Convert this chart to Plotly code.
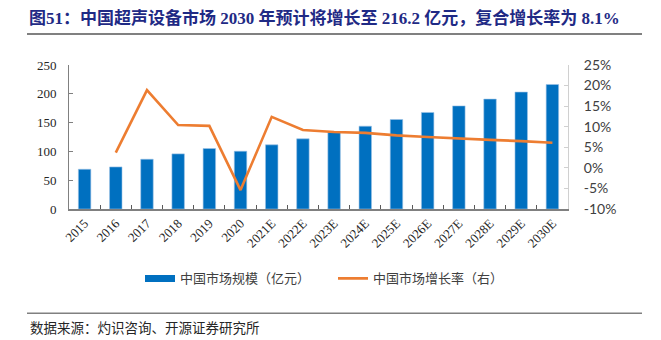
import plotly.graph_objects as go

categories = ["2015", "2016", "2017", "2018", "2019", "2020", "2021E", "2022E", "2023E",
              "2024E", "2025E", "2026E", "2027E", "2028E", "2029E", "2030E"]
market_size = [69.0, 73.0, 86.4, 95.7, 105.0, 100.3, 111.4, 121.8, 134.0,
               143.8, 155.4, 167.6, 179.0, 190.8, 203.0, 216.2]
growth_rate = [None, 3.7, 18.9, 10.4, 10.2, -5.4, 12.4, 9.2, 8.7,
               8.5, 7.9, 7.5, 7.1, 6.8, 6.5, 6.1]
left_ticks = [0, 50, 100, 150, 200, 250]
right_ticks = [-10, -5, 0, 5, 10, 15, 20, 25]

W, H = 661, 340
L, R, T, B = 69, 568, 65, 208.7
BAR_COLOR = "#0070C0"
LINE_COLOR = "#ED7D31"


def px_x(x):
    return (x - L) / (R - L)


def px_y(y):
    return (B - y) / (B - T)


fig = go.Figure()
fig.add_trace(go.Bar(
    x=categories, y=market_size, name="中国市场规模（亿元）",
    marker=dict(color=BAR_COLOR, line=dict(color="#9DC3E6", width=0.6)),
    yaxis="y", showlegend=False,
))
# legend proxy (wide rectangle swatch like the original)
fig.add_trace(go.Scatter(
    x=[None], y=[None], name="中国市场规模（亿元）", mode="lines",
    line=dict(color=BAR_COLOR, width=7), yaxis="y", showlegend=True,
))
fig.add_trace(go.Scatter(
    x=categories, y=growth_rate, name="中国市场增长率（右）", mode="lines",
    line=dict(color=LINE_COLOR, width=2.6), yaxis="y2", connectgaps=False,
))

serif = "Liberation Serif, Times New Roman, serif"
sans = "Lato, Liberation Sans, sans-serif"

fig.update_layout(
    width=W, height=H,
    margin=dict(l=L, r=W - R, t=T, b=H - B, autoexpand=False),
    paper_bgcolor="white", plot_bgcolor="white",
    bargap=0.6,
    showlegend=True,
    legend=dict(orientation="h", x=px_x(140), y=px_y(278), xanchor="left", yanchor="middle",
                font=dict(family="Noto Sans CJK SC", size=13, color="#404040"),
                bgcolor="rgba(0,0,0,0)", entrywidth=148),
    xaxis=dict(
        type="category", tickangle=-45, tickson="boundaries", ticks="inside",
        ticklen=4, tickcolor="#595959", showline=True, linecolor="#808080", linewidth=1.5,
        showgrid=False, tickfont=dict(family=serif, size=13, color="#262626"),
    ),
    yaxis=dict(
        range=[0, 250], tickvals=left_ticks, showgrid=False, zeroline=False,
        showline=True, linecolor="#808080", linewidth=1, ticks="inside", ticklen=4,
        tickcolor="#808080", tickfont=dict(family=serif, size=13, color="#262626"),
        ticklabelstandoff=9,
    ),
    yaxis2=dict(
        range=[-10, 25], tickvals=right_ticks, ticktext=[f"{v}%" for v in right_ticks],
        overlaying="y", side="right", showgrid=False, zeroline=False,
        showline=True, linecolor="#D0D0D0", linewidth=1, ticks="inside", ticklen=4,
        tickcolor="#D0D0D0", tickfont=dict(family=sans, size=14, color="#404040"),
        ticklabelstandoff=12,
    ),
    title=dict(
        text="图51：中国超声设备市场 2030 年预计将增长至 216.2 亿元，复合增长率为 8.1%",
        xref="container", yref="container", x=29 / W, y=1 - 18 / H,
        xanchor="left", yanchor="middle",
        font=dict(family="Liberation Serif, Noto Sans CJK SC", size=17, color="#1F2A85", weight="bold"),
    ),
    shapes=[
        dict(type="line", xref="paper", yref="paper", x0=px_x(27), x1=px_x(642),
             y0=px_y(34), y1=px_y(34), line=dict(color="#808080", width=2)),
        dict(type="line", xref="paper", yref="paper", x0=px_x(27), x1=px_x(642),
             y0=px_y(312.7), y1=px_y(312.7), line=dict(color="#808080", width=1.5)),
    ],
    annotations=[
        dict(text="数据来源：灼识咨询、开源证券研究所", xref="paper", yref="paper",
             x=px_x(28), y=px_y(326), xanchor="left", yanchor="middle", showarrow=False,
             font=dict(family="Noto Sans CJK SC", size=13.5, color="#262626")),
    ],
)

fig.write_html("out.html")
